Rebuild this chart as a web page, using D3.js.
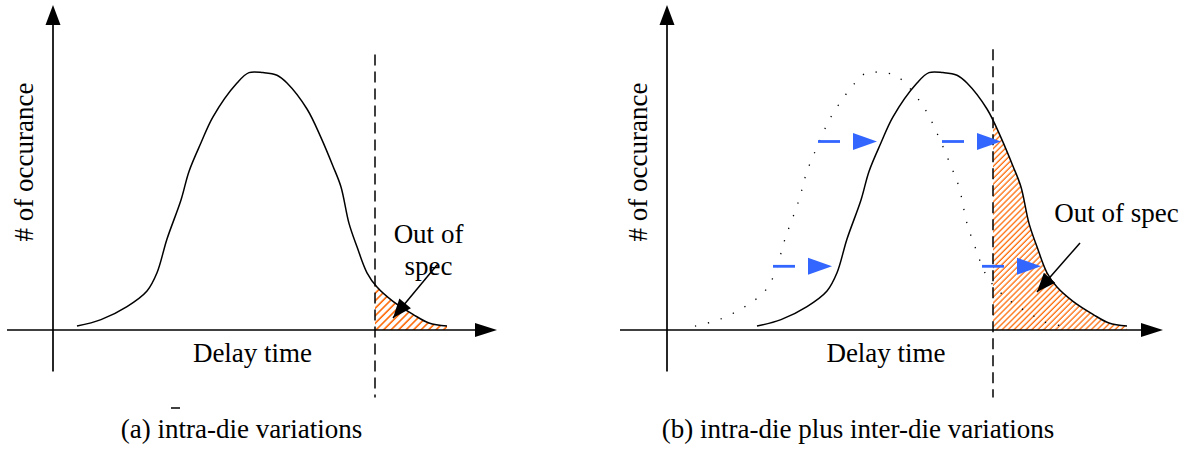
<!DOCTYPE html>
<html>
<head>
<meta charset="utf-8">
<script src="https://cdn.jsdelivr.net/npm/d3@7"></script>
<style>
  body { margin: 0; background: #fff; }
  text { font-family: "Liberation Serif", "Times New Roman", serif; font-size: 27px; fill: #000; }
</style>
</head>
<body>
<svg id="chart" width="1194" height="450"></svg>
<script>
// delay-time distribution (arbitrary units)
var delay =      [6, 12, 18.5, 23.5, 26, 28.5, 32, 34, 37, 40, 46, 49, 52.5, 56, 58.5, 63.5, 67, 70, 72, 74, 76, 78.5, 81, 85, 90, 94, 98.5];
var occurrence = [1.5, 4, 9, 15, 22, 35, 50, 61, 72, 82, 95, 99, 99, 98, 95, 85, 74, 63, 55, 41, 32, 22, 16.5, 11, 6, 2.7, 1.5];

var specLimit = 80.5;
var interShift = 15.5;              // inter-die shift of the whole distribution
var shiftLevels = [24.5, 72.5, 72.5, 24.5];
var shiftStarts = [25.5, 36.75, 67.75, 77.75];

var xLabel = 'Delay time';
var yLabel = '# of occurance';
var captions = ['(a) intra-die variations', '(b) intra-die plus inter-die variations'];

var blue = '#3366ff';
var orange = '#ff6600';

var points = delay.map((d, i) => ({ x: d, y: occurrence[i] }));
var shifted = points.map(p => ({ x: p.x + interShift, y: p.y }));

var svg = d3.select('#chart');
var y = d3.scaleLinear().domain([0, 100]).range([330, 70]);

// hatch for the out-of-spec tail (left one is a bit coarser)
var defs = svg.append('defs');
defs.selectAll('pattern')
  .data([{ gap: 5.3, w: 1.6 }, { gap: 4.2, w: 1.25 }]).enter()
  .append('pattern')
  .attr('id', (d, i) => 'hatch' + i)
  .attr('patternUnits', 'userSpaceOnUse')
  .attr('width', d => d.gap).attr('height', d => d.gap)
  .attr('patternTransform', 'rotate(45)')
  .append('line')
  .attr('x1', 1).attr('y1', 0).attr('x2', 1).attr('y2', d => d.gap)
  .attr('stroke', orange).attr('stroke-width', d => d.w);

var panels = [
  { xRange: [53, 497], originX: 0, axisX: [-11.5, 111], specTop: 106, caption: captions[0],
    captionX: 241.5, labelX: 252.5, yLabelX: 33, curve: points,
    out: { lines: ['Out of', 'spec'], x: 428.5, y: 243, from: [437, 265], to: [393, 318] } },
  { xRange: [671, 1115], originX: -1, axisX: [-12.75, 123], specTop: 108, caption: captions[1],
    captionX: 858, labelX: 886, yLabelX: 647, curve: shifted, ghost: points,
    out: { lines: ['Out of spec'], x: 1116.5, y: 222, from: [1080, 243], to: [1037, 292] } }
];

function head(tip, from, len, halfW) {
  var dx = tip[0] - from[0], dy = tip[1] - from[1];
  var n = Math.sqrt(dx * dx + dy * dy);
  var ux = dx / n, uy = dy / n;
  var bx = tip[0] - ux * len, by = tip[1] - uy * len;
  return [tip, [bx - uy * halfW, by + ux * halfW], [bx + uy * halfW, by - ux * halfW]];
}

function triangle(g, pts, color) {
  g.append('path')
    .attr('d', 'M' + pts.join('L') + 'Z')
    .attr('fill', color);
}

panels.forEach((p, k) => {
  var x = d3.scaleLinear().domain([0, 111]).range(p.xRange);
  var g = svg.append('g');

  var line = d3.line().x(d => x(d.x)).y(d => y(d.y)).curve(d3.curveCatmullRom);
  var area = d3.area().x(d => x(d.x)).y0(y(0)).y1(d => y(d.y)).curve(d3.curveCatmullRom);

  // out-of-spec tail, clipped at the spec limit
  g.append('clipPath').attr('id', 'tail' + k)
    .append('rect')
    .attr('x', x(specLimit)).attr('y', 0)
    .attr('width', 400).attr('height', y(0));
  g.append('path')
    .datum(p.curve)
    .attr('d', area)
    .attr('fill', 'url(#hatch' + k + ')')
    .attr('clip-path', 'url(#tail' + k + ')');

  // axes
  var ax = x(p.originX);
  g.append('line')
    .attr('x1', ax).attr('x2', ax)
    .attr('y1', y(-16)).attr('y2', y(120))
    .attr('stroke', '#000').attr('stroke-width', 1.7);
  triangle(g, head([ax, y(125)], [ax, y(0)], 20, 7.5), '#000');
  g.append('line')
    .attr('x1', x(p.axisX[0])).attr('x2', x(p.axisX[1]) - 10)
    .attr('y1', y(0)).attr('y2', y(0))
    .attr('stroke', '#000').attr('stroke-width', 1.7);
  triangle(g, head([x(p.axisX[1]), y(0)], [ax, y(0)], 22, 7), '#000');

  // spec limit
  g.append('line')
    .attr('x1', x(specLimit)).attr('x2', x(specLimit))
    .attr('y1', y(p.specTop)).attr('y2', y(-26))
    .attr('stroke', '#000').attr('stroke-width', 1.5)
    .attr('stroke-dasharray', '11,6');

  // original distribution before inter-die shift
  if (p.ghost) {
    g.append('path')
      .datum(p.ghost)
      .attr('d', line)
      .attr('fill', 'none')
      .attr('stroke', '#000').attr('stroke-width', 1.3)
      .attr('stroke-dasharray', '1.3,12');

    shiftStarts.forEach((s, i) => {
      var yy = y(shiftLevels[i]);
      var tail = x(s), tip = x(s + interShift - 0.75);
      g.append('line')
        .attr('x1', tail).attr('x2', tail + 22)
        .attr('y1', yy).attr('y2', yy)
        .attr('stroke', blue).attr('stroke-width', 2.8);
      triangle(g, head([tip, yy], [tail, yy], 24, 8.5), blue);
    });
  }

  g.append('path')
    .datum(p.curve)
    .attr('d', line)
    .attr('fill', 'none')
    .attr('stroke', '#000').attr('stroke-width', 1.5);

  // labels
  g.append('text')
    .attr('x', p.labelX).attr('y', 362)
    .attr('text-anchor', 'middle')
    .text(xLabel);
  g.append('text')
    .attr('transform', 'translate(' + [p.yLabelX, 162] + ')rotate(-90)')
    .attr('text-anchor', 'middle')
    .text(yLabel);
  g.append('text')
    .attr('x', p.captionX).attr('y', 438)
    .attr('text-anchor', 'middle')
    .text(p.caption);

  var o = p.out;
  g.selectAll('.out')
    .data(o.lines).enter().append('text')
    .attr('x', o.x).attr('y', (d, i) => o.y + i * 32)
    .attr('text-anchor', 'middle')
    .text(d => d);
  g.append('line')
    .attr('x1', o.from[0]).attr('y1', o.from[1])
    .attr('x2', o.to[0]).attr('y2', o.to[1])
    .attr('stroke', '#000').attr('stroke-width', 1.5);
  triangle(g, head(o.to, o.from, 19, 7.5), '#000');
});

// stray mark under the left panel
svg.append('line')
  .attr('x1', 171).attr('x2', 180).attr('y1', 408).attr('y2', 408)
  .attr('stroke', '#000').attr('stroke-width', 1.5);
</script>
</body>
</html>
